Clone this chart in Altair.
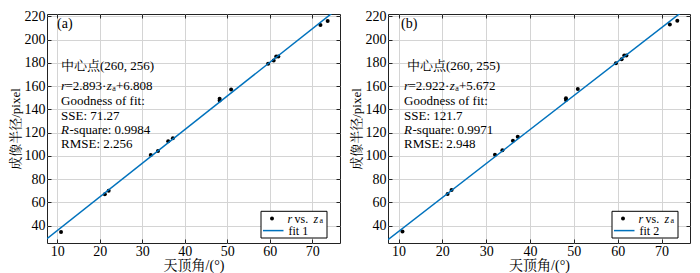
import altair as alt
import pandas as pd

# ---- data ----
za = [10.9, 21.2, 22.1, 32.0, 33.7, 36.1, 37.2, 48.2, 48.2, 50.9, 59.6, 60.9, 61.5, 62.0, 71.9, 73.6]
r_a = [34.4, 66.9, 70.0, 100.6, 104.2, 112.6, 115.1, 147.5, 149.0, 157.0, 179.2, 182.1, 185.4, 185.5, 212.5, 215.9]
r_b = [35.0, 67.1, 70.5, 101.0, 104.7, 113.0, 116.3, 148.0, 149.6, 157.5, 179.7, 183.0, 186.3, 186.3, 213.0, 216.3]
fit_a = (2.893, 6.808)
fit_b = (2.922, 5.672)
x_ticks = [10, 20, 30, 40, 50, 60, 70]
y_ticks = [40, 60, 80, 100, 120, 140, 160, 180, 200, 220]
x_domain = [7.6, 76.5]
y_domain = [25, 222]

FONT = "Liberation Serif, Times New Roman, Noto Serif CJK SC, Noto Sans CJK SC, serif"
BLUE = "#0072BD"
H = 229
K = H / 237.0


def one():
    return pd.DataFrame({"_": [0]})


def txt(s, x, y, size=13, style="normal", base="middle"):
    return alt.Chart(one()).mark_text(
        text=s, align="left", baseline=base, font=FONT, fontSize=size,
        fontStyle=style, color="black"
    ).encode(x=alt.value(x), y=alt.value(y))


def panel(r, fit, tag, tagx, center, cindent, sse, rsq, rmse, fitname, W, L, lx0):
    slope, icpt = fit
    pts = pd.DataFrame({"z": za, "r": r})
    line_df = pd.DataFrame({"z": x_domain})
    line_df["r"] = slope * line_df["z"] + icpt
    eq_mid = f"={slope:.3f}·"
    eq_end = f"+{icpt:.3f}"

    xs = alt.Scale(domain=x_domain, nice=False, zero=False)
    ys = alt.Scale(domain=y_domain, nice=False, zero=False)
    xax = alt.Axis(values=x_ticks, orient="bottom", title="天顶角/(°)", grid=True, offset=-4, tickSize=4,
                   domain=False, labelPadding=1, titlePadding=0)
    yax = alt.Axis(values=y_ticks, orient="left", title="成像半径/pixel", grid=True, offset=-4, tickSize=4,
                   domain=False, labelPadding=2, titlePadding=2, titleFontSize=13)
    xtop = alt.Axis(values=x_ticks, orient="top", labels=False, title=None, grid=False,
                    offset=-4, tickSize=4, domain=False)
    yright = alt.Axis(values=y_ticks, orient="right", labels=False, title=None, grid=False,
                      offset=-4, tickSize=4, domain=False)

    points = alt.Chart(pts).mark_circle(size=16, color="black", opacity=1).encode(
        x=alt.X("z:Q", scale=xs, axis=xax), y=alt.Y("r:Q", scale=ys, axis=yax))
    fitline = alt.Chart(line_df).mark_line(color=BLUE, strokeWidth=1.5, clip=True).encode(
        x=alt.X("z:Q", scale=xs, axis=xtop), y=alt.Y("r:Q", scale=ys, axis=yright))

    layers = [
        points, fitline,
        txt(tag, tagx, 10, size=14),
        txt("中心点(" + center + ")", L + cindent, 54.3 * K),
        txt("r", L, 74.3 * K, style="italic"),
        txt(eq_mid, L + 4.5, 74.3 * K),
        txt("z", L + 45.7, 74.3 * K, style="italic"),
        txt("a", L + 51.2, 74.3 * K + 3.2, size=8),
        txt(eq_end, L + 55, 74.3 * K),
        txt("Goodness of fit:", L, 89.6 * K),
        txt("SSE: " + sse, L, 105.3 * K),
        txt("R", L, 119.6 * K, style="italic"),
        txt("-square: " + rsq, L + 8.5, 119.6 * K),
        txt("RMSE: " + rmse, L, 134.3 * K),
    ]
    # legend box
    lx1, ly0, ly1 = lx0 + 66, H - 31.7, H - 5
    layers += [
        alt.Chart(one()).mark_rect(fill="white", stroke="black", strokeWidth=1).encode(
            x=alt.value(lx0), x2=alt.value(lx1), y=alt.value(ly0), y2=alt.value(ly1)),
        alt.Chart(one()).mark_circle(size=16, color="black", opacity=1).encode(
            x=alt.value(lx0 + 11), y=alt.value(ly0 + 7.3)),
        alt.Chart(one()).mark_rule(color=BLUE, strokeWidth=1.5).encode(
            x=alt.value(lx0 + 2), x2=alt.value(lx0 + 22.5), y=alt.value(ly0 + 19.3)),
        txt("r", lx0 + 26.5, ly0 + 7.3, size=12, style="italic"),
        txt("vs.", lx0 + 33.5, ly0 + 7.3, size=12),
        txt("z", lx0 + 52.5, ly0 + 7.3, size=12, style="italic"),
        txt("a", lx0 + 58.5, ly0 + 10, size=8),
        txt(fitname, lx0 + 27.5, ly0 + 19.3, size=12),
    ]
    return alt.layer(*layers).resolve_axis(x="independent", y="independent").properties(width=W, height=H)


left = panel(r_a, fit_a, "(a)", 10, "260, 256", 0, "71.27", "0.9984", "2.256", "fit 1", 293, 14, 214)
right = panel(r_b, fit_b, "(b)", 13, "260, 255", 3, "121.7", "0.9971", "2.948", "fit 2", 302, 16, 224)

chart = alt.hconcat(left, right, spacing=8).properties(
    padding={"left": 0, "top": 0, "right": 0, "bottom": 0}
).configure_view(stroke="#222222", strokeWidth=1).configure_axis(
    labelFont=FONT, titleFont=FONT, labelFontSize=14, titleFontSize=14,
    titleFontWeight="normal", labelColor="black", titleColor="black",
    tickColor="#222222", gridColor="#d4d4d4", gridWidth=1
)

chart.save("out.html", embed_options={"renderer": "svg", "actions": False})
